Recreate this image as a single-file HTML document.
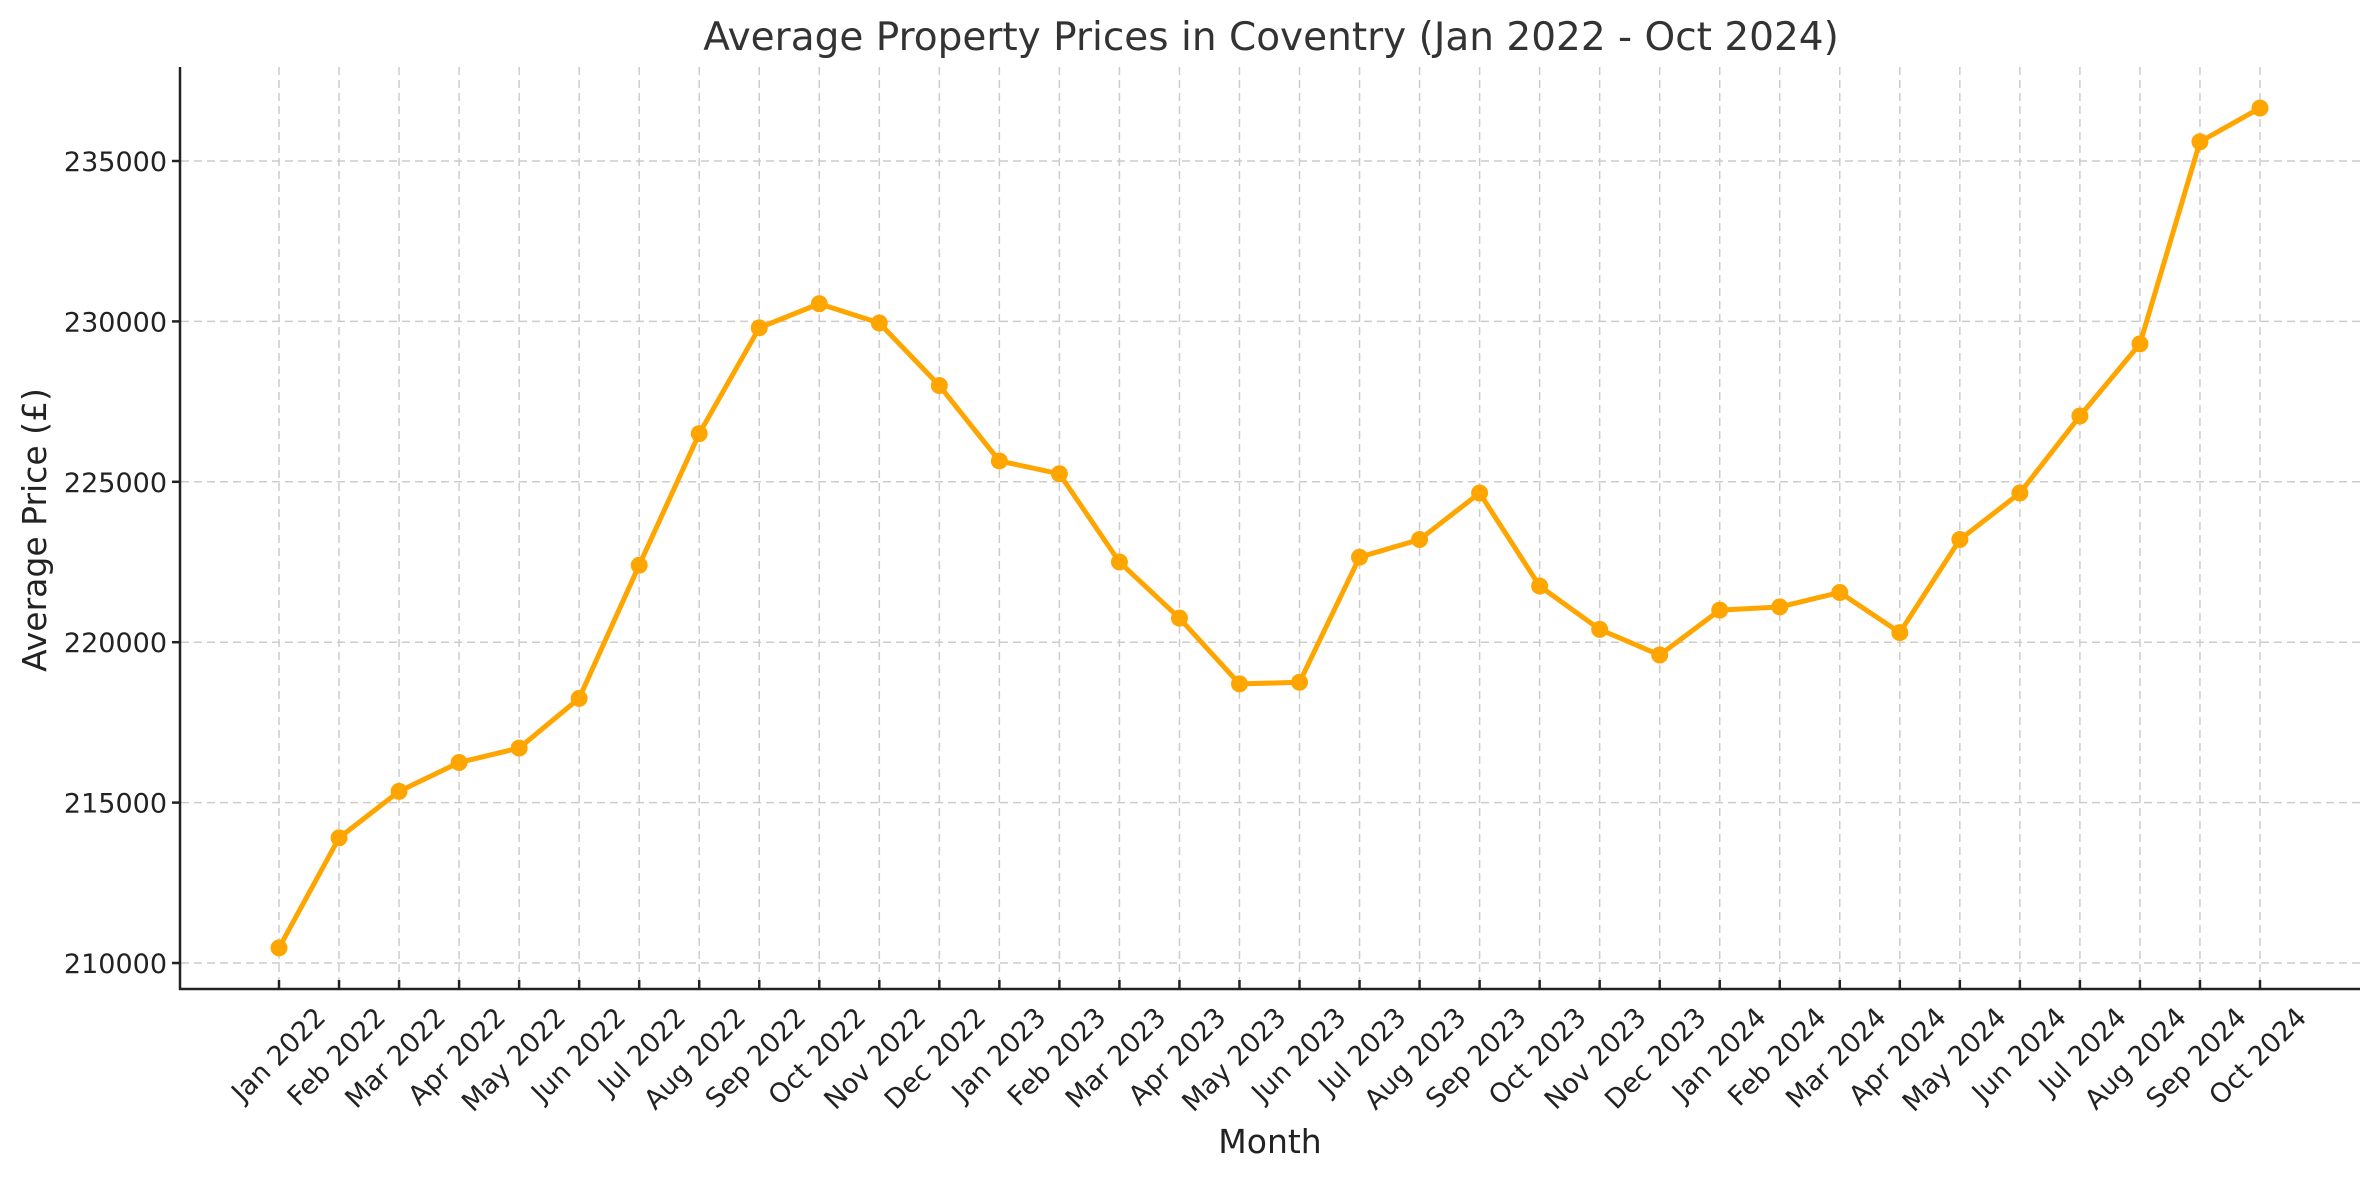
<!DOCTYPE html>
<html><head><meta charset="utf-8"><style>html,body{margin:0;padding:0;background:#fff}svg{display:block}</style></head>
<body>
<svg id="s" width="2379" height="1180" xmlns="http://www.w3.org/2000/svg" font-family="DejaVu Sans, Liberation Sans, sans-serif">
<rect width="2379" height="1180" fill="#fff"/>
<g id="grid" stroke="#cccccc" stroke-width="1.5" stroke-dasharray="8,5"></g>
<g id="ax" stroke="#222" stroke-width="2.5" fill="none">
<line x1="180" y1="67" x2="180" y2="990"/>
<line x1="179" y1="989" x2="2360" y2="989"/>
</g>
<g id="ticks" stroke="#222" stroke-width="2.5"></g>
<g id="yl" font-size="27" fill="#222" text-anchor="end"></g>
<g id="xl" font-size="27" fill="#222" text-anchor="end"></g>
<polyline id="pl" fill="none" stroke="#FFA500" stroke-width="5" stroke-linejoin="round"/>
<g id="mk" fill="#FFA500"></g>
<text x="1271" y="50" font-size="39" fill="#333" text-anchor="middle">Average Property Prices in Coventry (Jan 2022 - Oct 2024)</text>
<text x="1270" y="1153" font-size="33" fill="#222" text-anchor="middle">Month</text>
<text transform="translate(46,530) rotate(-90)" font-size="33" fill="#222" text-anchor="middle">Average Price (£)</text>
</svg>
<script>
var ns="http://www.w3.org/2000/svg";
function el(p,t,a,txt){var e=document.createElementNS(ns,t);for(var k in a)e.setAttribute(k,a[k]);if(txt)e.textContent=txt;document.getElementById(p).appendChild(e);}
var vals=[210470,213900,215350,216250,216700,218250,222400,226500,229800,230550,229950,228000,225650,225250,222500,220750,218700,218750,222650,223200,224650,221750,220400,219600,221000,221100,221550,220300,223200,224650,227050,229300,235600,236650];
var m=["Jan","Feb","Mar","Apr","May","Jun","Jul","Aug","Sep","Oct","Nov","Dec"];
function X(i){return 279+i*60.03;}
function Y(v){return 963-(v-210000)/5000*160.4;}
for(var k=0;k<6;k++){var y=Y(210000+k*5000);
el("grid","line",{x1:181,x2:2360,y1:y,y2:y});
el("ticks","line",{x1:172,x2:180,y1:y,y2:y});
el("yl","text",{x:167,y:y+10},String(210000+k*5000));}
var pts=[];
for(var i=0;i<34;i++){var x=X(i);
el("grid","line",{x1:x,x2:x,y1:67,y2:988});
el("ticks","line",{x1:x,x2:x,y1:980,y2:989});
var lab=m[(i)%12]+" "+(2022+Math.floor(i/12));
el("xl","text",{transform:"translate("+(x+48)+",1019) rotate(-45)"},lab);
pts.push(x+","+Y(vals[i]));
el("mk","circle",{cx:x,cy:Y(vals[i]),r:8.5});}
document.getElementById("pl").setAttribute("points",pts.join(" "));
</script>
</body></html>
